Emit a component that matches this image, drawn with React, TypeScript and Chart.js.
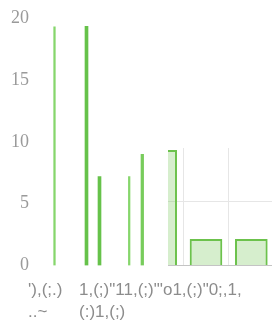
import React, { useEffect, useRef } from "react";
import { Chart, registerables } from "chart.js";

Chart.register(...registerables);

// y axis
const yMin = 0;
const yMax = 20;
const yStep = 5;

// x-axis tick labels (multi-line) and their positions on the x scale
const xLabels: string[][] = [
  ["'),(;.)", "..~"],
  ["1,(;)\"11,(;)\"'o1,(;)\"0;,1,", "(:)1,(;)"],
];
const xLabelPositions = [0, 51];
const xMin = 0;
const xMax = 240;

// main bars: positions and values
const thinX = [22.5, 97.2];
const thinY = [19.3, 7.2];
const thickX = [54.5, 67.5];
const thickY = [19.35, 7.2];
const midX = [110.3];
const midY = [9.0];

// inset (magnified) panel
const insetCategories = ["a", "b", "c"];
const insetValues = [9.05, 2.08, 2.08];
const insetYMax = 9.2;

export default function App() {
  const mainRef = useRef<HTMLCanvasElement | null>(null);
  const insetRef = useRef<HTMLCanvasElement | null>(null);

  useEffect(() => {
    const pts = (xs: number[], ys: number[]) => xs.map((x, i) => ({ x, y: ys[i] }));
    const main = new Chart(mainRef.current!, {
      type: "bar",
      data: {
        datasets: [
          { data: pts(thinX, thinY) as any, backgroundColor: "#86d66c", barThickness: 1.6, grouped: false },
          { data: pts(thickX, thickY) as any, backgroundColor: "#66c24a", barThickness: 3, grouped: false },
          { data: pts(midX, midY) as any, backgroundColor: "#78cc5c", barThickness: 2.6, grouped: false },
        ],
      },
      options: {
        responsive: false,
        animation: false,
        layout: { padding: { top: 18.3, left: 8, right: 0, bottom: 0.4 } },
        plugins: { legend: { display: false }, tooltip: { enabled: false } },
        scales: {
          x: {
            type: "linear",
            offset: false,
            min: xMin,
            max: xMax,
            grid: { display: false, drawTicks: false, offset: false },
            border: { display: false },
            afterBuildTicks: (axis: any) => {
              axis.ticks = xLabelPositions.map((v) => ({ value: v }));
            },
            ticks: {
              autoSkip: false,
              maxRotation: 0,
              minRotation: 0,
              align: "start",
              padding: 13.45,
              labelOffset: -4,
              color: "#8c8c8c",
              font: { family: "Liberation Sans", size: 17, lineHeight: 1.3 },
              callback: (_v: any, i: number) => xLabels[i],
            },
          },
          y: {
            min: yMin,
            max: yMax,
            grid: { display: false, drawTicks: false },
            border: { display: false },
            ticks: {
              stepSize: yStep,
              padding: 3,
              color: "#9a9a9a",
              font: { family: "Liberation Serif", size: 18 },
            },
          },
        },
      },
    });

    const inset = new Chart(insetRef.current!, {
      type: "bar",
      data: {
        labels: insetCategories,
        datasets: [
          {
            data: insetValues,
            backgroundColor: "rgba(108, 194, 76, 0.28)",
            borderColor: "#6cc24c",
            borderWidth: 2,
          },
        ],
      },
      options: {
        responsive: false,
        animation: false,
        layout: { padding: { top: 0, left: 0, right: 0, bottom: 2.5 } },
        plugins: { legend: { display: false }, tooltip: { enabled: false } },
        scales: {
          x: {
            grid: { color: "#e6e6e6", drawTicks: false },
            border: { color: "#c4c4c4" },
            ticks: { display: false },
          },
          y: {
            min: 0,
            max: insetYMax,
            grid: { color: "#e6e6e6", drawTicks: false },
            border: { display: false },
            ticks: { display: false, stepSize: 5, includeBounds: false },
          },
        },
      },
    });

    return () => {
      main.destroy();
      inset.destroy();
    };
  }, []);

  return (
    <div
      style={{
        position: "fixed",
        left: 0,
        top: 0,
        width: 272,
        height: 324,
        overflow: "hidden",
        background: "#fff",
      }}
    >
      <canvas ref={mainRef} width={272} height={337} style={{ position: "absolute", left: 0, top: 0 }} />
      <div style={{ position: "absolute", left: 168, top: 148, width: 104, height: 120, overflow: "hidden" }}>
        <canvas ref={insetRef} width={136} height={120} style={{ position: "absolute", left: -30, top: 0 }} />
      </div>
    </div>
  );
}
